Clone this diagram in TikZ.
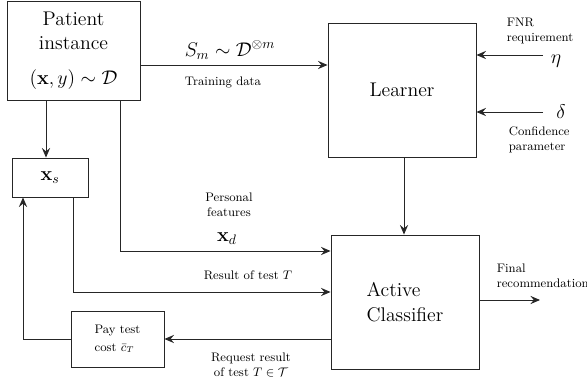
\documentclass[tikz,border=0pt]{standalone}
\usetikzlibrary{arrows.meta}
\newdimen\pxu \pxu=0.7273pt
\begin{document}
\begin{tikzpicture}[x=0.7273pt,y=-0.7273pt,
  box/.style={draw=black!85, line width=0.65pt, inner sep=0pt, align=center},
  big/.style={font=\Large},
  lab/.style={font=\small, align=center},
  conn/.style={draw=black!85, line width=0.65pt},
  arr/.style={conn, -{Stealth[length=7pt,width=6pt,inset=2.5pt]}}]
\useasboundingbox (0,0) rectangle (587,385);
% boxes
\node[box,big,minimum width=133*\pxu,minimum height=99*\pxu] (patient) at (73.5,50.5)
  {Patient\\instance\\[7pt]$(\mathbf{x},y)\sim\mathcal{D}$};
\node[box,big,minimum width=148*\pxu,minimum height=134*\pxu] (learner) at (402,90) {Learner};
\node[box,big,align=left,minimum width=148*\pxu,minimum height=134*\pxu] (active) at (405,302) {Active\\Classifier};
\node[box,big,minimum width=76*\pxu,minimum height=39*\pxu] (xs) at (50,177.5) {$\mathbf{x}_s$};
\node[box,font=\small,align=left,minimum width=93*\pxu,minimum height=56*\pxu] (pay) at (117.5,339) {Pay test\\[1.5pt]cost $\bar{c}_T$};
% helper coordinates
\coordinate (ytrain) at (0,65);
\coordinate (yeta) at (543,55);
\coordinate (ydelta) at (543,112);
\coordinate (xa) at (46,0);
\coordinate (xb) at (120,0);
\coordinate (xc) at (73,0);
\coordinate (xd) at (23,0);
\coordinate (xe) at (404,0);
\coordinate (yb) at (0,251);
\coordinate (yc) at (0,292);
\coordinate (yd) at (0,339);
\coordinate (ye) at (0,300);
\coordinate (fin) at (540,300);
% connectors
\draw[arr] (patient.east |- ytrain) -- (learner.west |- ytrain);
\draw[arr] (yeta) -- (learner.east |- yeta);
\draw[arr] (ydelta) -- (learner.east |- ydelta);
\draw[arr] (learner.south -| xe) -- (active.north -| xe);
\draw[arr] (patient.south -| xa) -- (xs.north -| xa);
\draw[arr] (patient.south -| xb) |- (active.west |- yb);
\draw[arr] (xs.south -| xc) |- (active.west |- yc);
\draw[arr] (active.west |- yd) -- (pay.east |- yd);
\draw[arr] (pay.west) -| (xs.south -| xd);
\draw[arr] (active.east |- ye) -- (fin);
% labels
\node[big] (sm) at (230,50) {$S_m\sim\mathcal{D}^{\otimes m}$};
\node[lab] (train) at (223,82) {Training data};
\node[lab,align=left,anchor=west] (fnr) at (502,31) {FNR\\requirement};
\node[big] (eta) at (556,61) {$\eta$};
\node[big] (delta) at (561,112) {$\delta$};
\node[lab,align=left,anchor=west] (conf) at (504,140) {Confidence\\parameter};
\node[lab] (pers) at (229,205) {Personal\\features};
\node[big] (xdl) at (227,239) {$\mathbf{x}_d$};
\node[lab] (res) at (248,275) {Result of test $T$};
\node[lab] (req) at (251,365) {Request result\\of test $T\in\mathcal{T}$};
\node[lab,align=left,anchor=west] (final) at (492,275.5) {Final\\recommendation};
\end{tikzpicture}
\end{document}
